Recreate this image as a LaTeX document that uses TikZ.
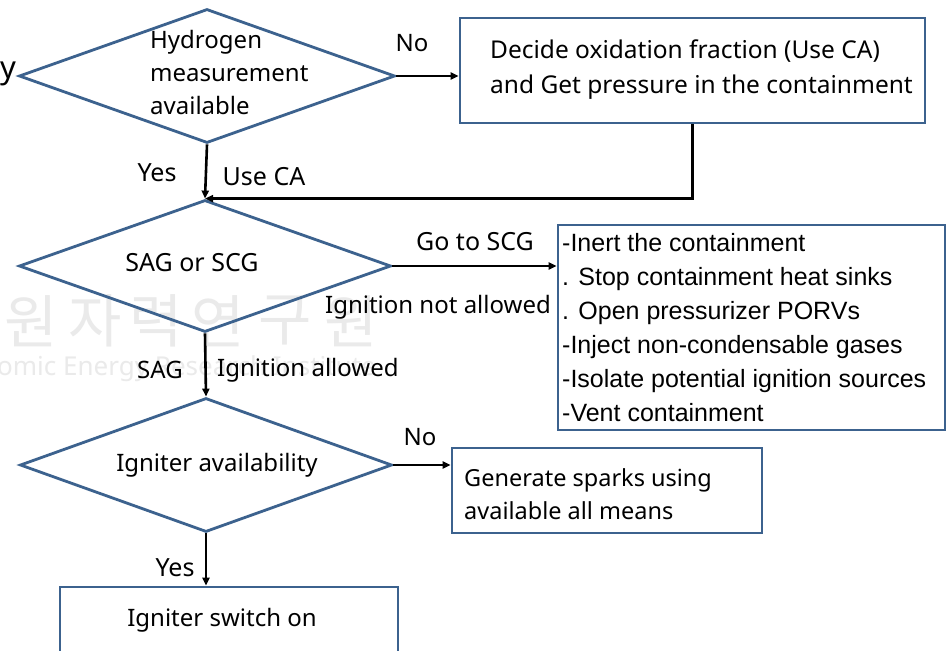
\documentclass[tikz,border=0pt]{standalone}
\usepackage{fontspec}
\setmainfont{Noto Sans}
\newfontfamily\arialf{Liberation Sans}
\newfontfamily\krfont{Noto Sans CJK KR}
\usetikzlibrary{shapes.geometric,arrows.meta,calc}
\definecolor{shapeblue}{RGB}{60,98,142}
\definecolor{wmgray}{RGB}{234,234,234}
\tikzset{
  dia/.style={diamond, draw=shapeblue, line width=2.8pt, inner sep=0pt, minimum width=#1},
  stepbox/.style={rectangle, draw=shapeblue, line width=2.8pt, inner sep=0pt},
  conn/.style={draw=black, line width=2.6pt, -{Triangle[length=8pt,width=7pt]}},
  lbl/.style={inner sep=0pt, font=\fontsize{24}{33}\selectfont},
  big/.style={inner sep=0pt, font=\fontsize{25}{34}\selectfont},
  lst/.style={inner sep=0pt, font=\arialf\fontsize{25}{34}\selectfont, align=left},
  wm/.style={inner sep=0pt, text=wmgray}
}
\begin{document}
\begin{tikzpicture}[x=1pt,y=-1pt]
\useasboundingbox (0,0) rectangle (946,651);
\clip (0,0) rectangle (946,651);
\fill[white] (0,0) rectangle (946,651);
% watermark
\foreach \ch/\cx [count=\i] in {원/31,자/95,력/156,연/218,구/285,원/351}{
  \node[wm, font=\krfont\fontsize{58}{58}\selectfont] (wmk\i) at (\cx,321) {\ch};
}
\node[wm, anchor=west, font=\fontsize{26}{26}\selectfont] (wme) at (-3,369) {omic Energy Research Institute};
% cut-off text
\node[inner sep=0pt, font=\fontsize{31}{31}\selectfont] (ycut) at (8,74) {y};
% shapes
\node[dia=376pt, minimum height=134pt] (d1) at (207,76) {};
\node[dia=372pt, minimum height=132pt] (d2) at (205,266) {};
\node[dia=372pt, minimum height=134pt] (d3) at (206,465) {};
\node[stepbox, minimum width=465pt, minimum height=105pt] (b1) at (692.5,70.5) {};
\node[stepbox, minimum width=387pt, minimum height=205pt] (b2) at (751.5,327.5) {};
\node[stepbox, minimum width=310pt, minimum height=85pt] (b3) at (607,490.5) {};
\node[stepbox, minimum width=338pt, minimum height=100pt] (b4) at (229,637) {};
% texts in shapes
\node[lbl, anchor=west, align=left] (t1) at (150,72) {Hydrogen\\measurement\\available};
\node[big] (t2) at (192,263) {SAG or SCG};
\node[lbl] (t3) at (217,465) {Igniter availability};
\node[big, anchor=west, align=left, font=\fontsize{24.5}{35}\selectfont] (t4) at (490,70) {Decide oxidation fraction (Use CA)\\and Get pressure in the containment};
\node[lst, anchor=west] (t5) at (562,328) {-Inert the containment\\. Stop containment heat sinks\\. Open pressurizer PORVs\\-Inject non-condensable gases\\-Isolate potential ignition sources\\-Vent containment};
\node[lbl, anchor=west, align=left, font=\fontsize{23.5}{33}\selectfont] (t6) at (464,494) {Generate sparks using\\available all means};
\node[lbl] (t7) at (222,620) {Igniter switch on};
% connectors
\draw[conn] (d1.east) -- (d1.east -| b1.west);
\draw[conn] (d1.south) -- (d2.north);
\draw[conn] (b1.south) |- (d2.north);
\draw[conn] (d2.east) -- (d2.east -| b2.west);
\draw[conn] (d2.south) -- (d3.north);
\draw[conn] (d3.east) -- (d3.east -| b3.west);
\draw[conn] (d3.south) -- (d3.south |- b4.north);
% connector labels
\node[lbl] (l1) at (412,43) {No};
\node[big] (l2) at (157,173) {Yes};
\node[big] (l3) at (264,177) {Use CA};
\node[big] (l4) at (475,242) {Go to SCG};
\node[lbl, anchor=east] (l5) at (551,307) {Ignition not allowed};
\node[lbl] (l6) at (160,370) {SAG};
\node[lbl, anchor=west] (l7) at (217,370) {Ignition allowed};
\node[lbl] (l8) at (420,437) {No};
\node[big] (l9) at (175,568) {Yes};
\end{tikzpicture}
\end{document}
